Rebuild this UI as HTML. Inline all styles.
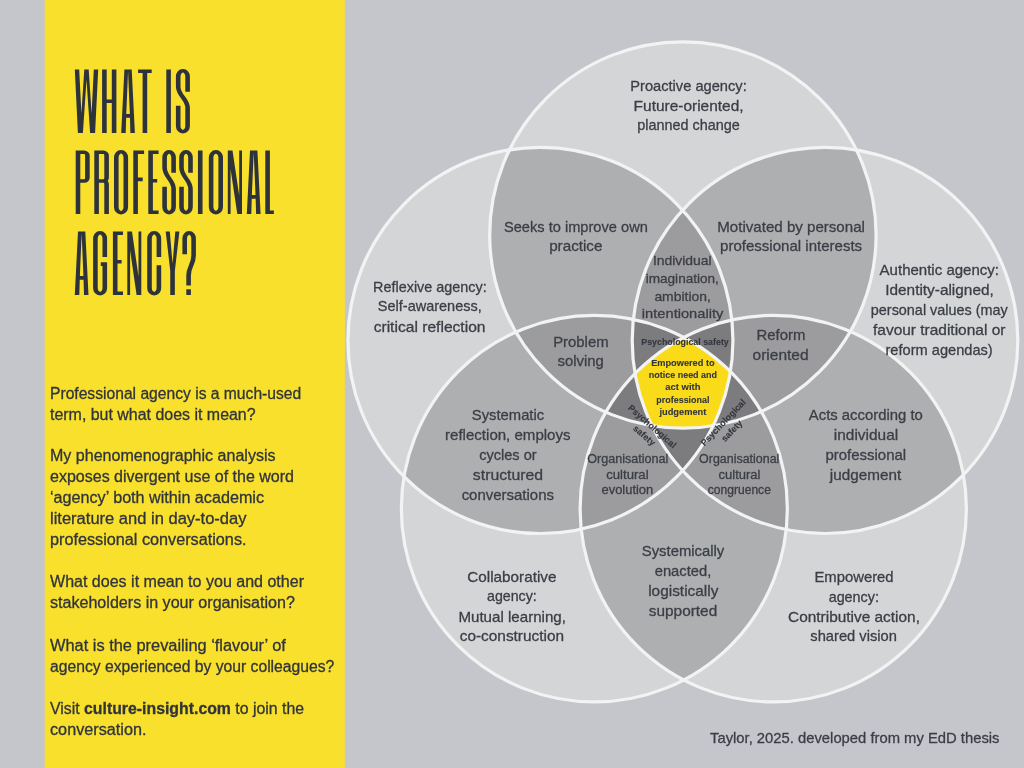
<!DOCTYPE html>
<html><head><meta charset="utf-8"><style>
html,body{margin:0;padding:0;background:#c5c6cb;}
body{width:1024px;height:768px;overflow:hidden;font-family:"Liberation Sans",sans-serif;}
svg{display:block;will-change:transform;}
</style></head><body>
<svg width="1024" height="768" viewBox="0 0 1024 768">
<defs><clipPath id="cT"><ellipse cx="682.9" cy="235.0" rx="193.2" ry="193.2"/></clipPath><clipPath id="cL"><ellipse cx="540.45" cy="340.4" rx="192.5" ry="193.1"/></clipPath><clipPath id="cR"><ellipse cx="825.0" cy="340.4" rx="192.8" ry="193.1"/></clipPath><clipPath id="cBL"><ellipse cx="594.35" cy="508.65" rx="193.0" ry="193.3"/></clipPath><clipPath id="cBR"><ellipse cx="773.25" cy="508.65" rx="193.15" ry="193.3"/></clipPath><clipPath id="tl0"><rect x="60" y="68.5" width="260" height="65.5"/></clipPath><clipPath id="tl1"><rect x="60" y="149.5" width="260" height="65.5"/></clipPath><clipPath id="tl2"><rect x="60" y="230.5" width="260" height="65.5"/></clipPath></defs>
<rect width="1024" height="768" fill="#c5c6cb"/>
<rect x="44.7" y="0" width="300.1" height="768" fill="#f9e02c"/>
<ellipse cx="682.9" cy="235.0" rx="193.2" ry="193.2" fill="#d4d5d7"/>
<ellipse cx="540.45" cy="340.4" rx="192.5" ry="193.1" fill="#d4d5d7"/>
<ellipse cx="825.0" cy="340.4" rx="192.8" ry="193.1" fill="#d4d5d7"/>
<ellipse cx="594.35" cy="508.65" rx="193.0" ry="193.3" fill="#d4d5d7"/>
<ellipse cx="773.25" cy="508.65" rx="193.15" ry="193.3" fill="#d4d5d7"/>
<g clip-path="url(#cT)"><ellipse cx="540.45" cy="340.4" rx="192.5" ry="193.1" fill="#aeafb1"/></g>
<g clip-path="url(#cT)"><ellipse cx="825.0" cy="340.4" rx="192.8" ry="193.1" fill="#aeafb1"/></g>
<g clip-path="url(#cT)"><ellipse cx="594.35" cy="508.65" rx="193.0" ry="193.3" fill="#aeafb1"/></g>
<g clip-path="url(#cT)"><ellipse cx="773.25" cy="508.65" rx="193.15" ry="193.3" fill="#aeafb1"/></g>
<g clip-path="url(#cL)"><ellipse cx="825.0" cy="340.4" rx="192.8" ry="193.1" fill="#aeafb1"/></g>
<g clip-path="url(#cL)"><ellipse cx="594.35" cy="508.65" rx="193.0" ry="193.3" fill="#aeafb1"/></g>
<g clip-path="url(#cL)"><ellipse cx="773.25" cy="508.65" rx="193.15" ry="193.3" fill="#aeafb1"/></g>
<g clip-path="url(#cR)"><ellipse cx="594.35" cy="508.65" rx="193.0" ry="193.3" fill="#aeafb1"/></g>
<g clip-path="url(#cR)"><ellipse cx="773.25" cy="508.65" rx="193.15" ry="193.3" fill="#aeafb1"/></g>
<g clip-path="url(#cBL)"><ellipse cx="773.25" cy="508.65" rx="193.15" ry="193.3" fill="#aeafb1"/></g>
<g clip-path="url(#cT)"><g clip-path="url(#cL)"><ellipse cx="825.0" cy="340.4" rx="192.8" ry="193.1" fill="#9c9c9e"/></g></g>
<g clip-path="url(#cT)"><g clip-path="url(#cL)"><ellipse cx="594.35" cy="508.65" rx="193.0" ry="193.3" fill="#9c9c9e"/></g></g>
<g clip-path="url(#cT)"><g clip-path="url(#cL)"><ellipse cx="773.25" cy="508.65" rx="193.15" ry="193.3" fill="#9c9c9e"/></g></g>
<g clip-path="url(#cT)"><g clip-path="url(#cR)"><ellipse cx="594.35" cy="508.65" rx="193.0" ry="193.3" fill="#9c9c9e"/></g></g>
<g clip-path="url(#cT)"><g clip-path="url(#cR)"><ellipse cx="773.25" cy="508.65" rx="193.15" ry="193.3" fill="#9c9c9e"/></g></g>
<g clip-path="url(#cT)"><g clip-path="url(#cBL)"><ellipse cx="773.25" cy="508.65" rx="193.15" ry="193.3" fill="#9c9c9e"/></g></g>
<g clip-path="url(#cL)"><g clip-path="url(#cR)"><ellipse cx="594.35" cy="508.65" rx="193.0" ry="193.3" fill="#9c9c9e"/></g></g>
<g clip-path="url(#cL)"><g clip-path="url(#cR)"><ellipse cx="773.25" cy="508.65" rx="193.15" ry="193.3" fill="#9c9c9e"/></g></g>
<g clip-path="url(#cL)"><g clip-path="url(#cBL)"><ellipse cx="773.25" cy="508.65" rx="193.15" ry="193.3" fill="#9c9c9e"/></g></g>
<g clip-path="url(#cR)"><g clip-path="url(#cBL)"><ellipse cx="773.25" cy="508.65" rx="193.15" ry="193.3" fill="#9c9c9e"/></g></g>
<g clip-path="url(#cT)"><g clip-path="url(#cL)"><g clip-path="url(#cR)"><ellipse cx="594.35" cy="508.65" rx="193.0" ry="193.3" fill="#7c7c7e"/></g></g></g>
<g clip-path="url(#cT)"><g clip-path="url(#cL)"><g clip-path="url(#cR)"><ellipse cx="773.25" cy="508.65" rx="193.15" ry="193.3" fill="#7c7c7e"/></g></g></g>
<g clip-path="url(#cT)"><g clip-path="url(#cL)"><g clip-path="url(#cBL)"><ellipse cx="773.25" cy="508.65" rx="193.15" ry="193.3" fill="#7c7c7e"/></g></g></g>
<g clip-path="url(#cT)"><g clip-path="url(#cR)"><g clip-path="url(#cBL)"><ellipse cx="773.25" cy="508.65" rx="193.15" ry="193.3" fill="#7c7c7e"/></g></g></g>
<g clip-path="url(#cL)"><g clip-path="url(#cR)"><g clip-path="url(#cBL)"><ellipse cx="773.25" cy="508.65" rx="193.15" ry="193.3" fill="#7c7c7e"/></g></g></g>
<g clip-path="url(#cT)"><g clip-path="url(#cL)"><g clip-path="url(#cR)"><g clip-path="url(#cBL)"><ellipse cx="773.25" cy="508.65" rx="193.15" ry="193.3" fill="#fadb1a"/></g></g></g></g>
<ellipse cx="682.9" cy="235.0" rx="193.2" ry="193.2" fill="none" stroke="#f2f3f3" stroke-width="3.2"/>
<ellipse cx="540.45" cy="340.4" rx="192.5" ry="193.1" fill="none" stroke="#f2f3f3" stroke-width="3.2"/>
<ellipse cx="825.0" cy="340.4" rx="192.8" ry="193.1" fill="none" stroke="#f2f3f3" stroke-width="3.2"/>
<ellipse cx="594.35" cy="508.65" rx="193.0" ry="193.3" fill="none" stroke="#f2f3f3" stroke-width="3.2"/>
<ellipse cx="773.25" cy="508.65" rx="193.15" ry="193.3" fill="none" stroke="#f2f3f3" stroke-width="3.2"/>
<g clip-path="url(#tl0)"><path transform="translate(102.1,69.5) scale(1.2778,1)" d="M1.8,0V63.5M9.391,0V63.5M1.8,31.7H9.391" fill="none" stroke="#2d323b" stroke-width="3.6"/><path transform="translate(138.1,69.5) scale(1.2778,1)" d="M0,1.8H10.643M5.322,1.8V63.5" fill="none" stroke="#2d323b" stroke-width="3.6"/><path transform="translate(166.3,69.5) scale(1.2778,1)" d="M1.8,0V63.5" fill="none" stroke="#2d323b" stroke-width="3.6"/><path transform="translate(175.9,69.5) scale(1.2778,1)" d="M9.157,22.2V6.9A3.678,5.6 0 0 0 1.8,6.9V17.3C1.8,26.3 9.157,29.3 9.157,38.3V56.6A3.678,5.6 0 0 1 1.8,56.6V36.2" fill="none" stroke="#2d323b" stroke-width="3.6"/><path d="M74.80,69.50 L79.20,69.50 L81.40,113.40 L84.30,69.50 L88.70,69.50 L91.60,113.40 L93.80,69.50 L98.20,69.50 L95.10,133.00 L90.10,133.00 L86.50,79.70 L82.90,133.00 L77.90,133.00Z" fill="#2d323b"/><path d="M121.20,133.00 L124.40,69.50 L131.70,69.50 L134.90,133.00 L130.40,133.00 L129.95,117.80 L126.15,117.80 L125.70,133.00ZM128.05,71.50 L129.83,114.10 L126.27,114.10Z" fill="#2d323b" fill-rule="evenodd"/></g>
<g clip-path="url(#tl1)"><path transform="translate(75.7,150.5) scale(1.2778,1)" d="M1.8,63.5V1.8H6.652A2.504,3.2 0 0 1 9.157,5V27.3A2.504,3.2 0 0 1 6.652,30.5H1.8" fill="none" stroke="#2d323b" stroke-width="3.6"/><path transform="translate(94.3,150.5) scale(1.2778,1)" d="M1.8,63.5V1.8H7.122A2.504,3.2 0 0 1 9.626,5V27.3A2.504,3.2 0 0 1 7.122,30.5H1.8M7.122,30.5A2.504,3.2 0 0 1 9.626,33.7V63.5" fill="none" stroke="#2d323b" stroke-width="3.6"/><path transform="translate(114,150.5) scale(1.2778,1)" d="M1.8,6.9A3.717,5.6 0 0 1 9.235,6.9V56.6A3.717,5.6 0 0 1 1.8,56.6Z" fill="none" stroke="#2d323b" stroke-width="3.6"/><path transform="translate(133.3,150.5) scale(1.2778,1)" d="M8.452,1.8H1.8V63.5M1.8,28.9H7.357" fill="none" stroke="#2d323b" stroke-width="3.6"/><path transform="translate(148.3,150.5) scale(1.2778,1)" d="M8.061,1.8H1.8V61.7H8.061M1.8,30.2H6.965" fill="none" stroke="#2d323b" stroke-width="3.6"/><path transform="translate(162.3,150.5) scale(1.2778,1)" d="M8.843,22.2V6.9A3.522,5.6 0 0 0 1.8,6.9V17.3C1.8,26.3 8.843,29.3 8.843,38.3V56.6A3.522,5.6 0 0 1 1.8,56.6V36.2" fill="none" stroke="#2d323b" stroke-width="3.6"/><path transform="translate(179.2,150.5) scale(1.2778,1)" d="M8.843,22.2V6.9A3.522,5.6 0 0 0 1.8,6.9V17.3C1.8,26.3 8.843,29.3 8.843,38.3V56.6A3.522,5.6 0 0 1 1.8,56.6V36.2" fill="none" stroke="#2d323b" stroke-width="3.6"/><path transform="translate(197.9,150.5) scale(1.2778,1)" d="M1.839,0V63.5" fill="none" stroke="#2d323b" stroke-width="3.6"/><path transform="translate(208.8,150.5) scale(1.2778,1)" d="M1.8,6.9A3.757,5.6 0 0 1 9.313,6.9V56.6A3.757,5.6 0 0 1 1.8,56.6Z" fill="none" stroke="#2d323b" stroke-width="3.6"/><path transform="translate(265.3,150.5) scale(1.2778,1)" d="M1.8,0V61.7H6.73" fill="none" stroke="#2d323b" stroke-width="3.6"/><path d="M227.80,150.50 L232.50,150.50 L239.20,195.40 L239.20,150.50 L242.00,150.50 L242.00,214.00 L237.30,214.00 L230.60,169.20 L230.60,214.00 L227.80,214.00Z" fill="#2d323b"/><path d="M246.80,214.00 L250.00,150.50 L257.40,150.50 L260.60,214.00 L256.10,214.00 L255.65,198.80 L251.75,198.80 L251.30,214.00ZM253.70,152.50 L255.53,195.10 L251.87,195.10Z" fill="#2d323b" fill-rule="evenodd"/></g>
<g clip-path="url(#tl2)"><path transform="translate(93.1,231.5) scale(1.2778,1)" d="M9.157,25.5V6.9A3.678,5.6 0 0 0 1.8,6.9V56.6A3.678,5.6 0 0 0 9.157,56.6V32.6H6.026" fill="none" stroke="#2d323b" stroke-width="3.6"/><path transform="translate(112.9,231.5) scale(1.2778,1)" d="M7.904,1.8H1.8V61.7H7.904M1.8,30.2H6.809" fill="none" stroke="#2d323b" stroke-width="3.6"/><path transform="translate(147.2,231.5) scale(1.2778,1)" d="M9.157,25.5V6.9A3.678,5.6 0 0 0 1.8,6.9V56.6A3.678,5.6 0 0 0 9.157,56.6V33.7" fill="none" stroke="#2d323b" stroke-width="3.6"/><path transform="translate(182.4,231.5) scale(1.2778,1)" d="M1.8,22.7V6.9A3.483,5.6 0 0 1 8.765,6.9V24C8.765,33 4.852,35 4.852,44V54" fill="none" stroke="#2d323b" stroke-width="3.6"/><rect x="186.3" y="289.3" width="4.6" height="5.700000000000003" fill="#2d323b"/><path d="M74.80,295.00 L78.00,231.50 L85.30,231.50 L88.50,295.00 L84.00,295.00 L83.55,279.80 L79.75,279.80 L79.30,295.00ZM81.65,233.50 L83.43,276.10 L79.87,276.10Z" fill="#2d323b" fill-rule="evenodd"/><path d="M127.30,231.50 L132.00,231.50 L138.50,276.40 L138.50,231.50 L141.30,231.50 L141.30,295.00 L136.60,295.00 L130.10,250.20 L130.10,295.00 L127.30,295.00Z" fill="#2d323b"/><path d="M165.70,231.50 L169.80,231.50 L172.55,263.60 L175.30,231.50 L179.40,231.50 L174.85,270.90 L174.85,295.00 L170.25,295.00 L170.25,270.90Z" fill="#2d323b"/></g>
<g font-family="Liberation Sans, sans-serif" stroke-width="0.3" stroke-linejoin="round">
<text x="688.5" y="90.8" font-size="15" text-anchor="middle" textLength="116.4" lengthAdjust="spacingAndGlyphs" fill="#3b3e45" stroke="#3b3e45">Proactive agency:</text>
<text x="688.6" y="110.9" font-size="15" text-anchor="middle" textLength="110" lengthAdjust="spacingAndGlyphs" fill="#3b3e45" stroke="#3b3e45">Future-oriented,</text>
<text x="688.5" y="130.1" font-size="15" text-anchor="middle" textLength="102.6" lengthAdjust="spacingAndGlyphs" fill="#3b3e45" stroke="#3b3e45">planned change</text>
<text x="575.9" y="231.6" font-size="15" text-anchor="middle" textLength="143.9" lengthAdjust="spacingAndGlyphs" fill="#3b3e45" stroke="#3b3e45">Seeks to improve own</text>
<text x="575.8" y="251.4" font-size="15" text-anchor="middle" textLength="53.3" lengthAdjust="spacingAndGlyphs" fill="#3b3e45" stroke="#3b3e45">practice</text>
<text x="791.1" y="231.6" font-size="15" text-anchor="middle" textLength="147.6" lengthAdjust="spacingAndGlyphs" fill="#3b3e45" stroke="#3b3e45">Motivated by personal</text>
<text x="791.1" y="251.4" font-size="15" text-anchor="middle" textLength="142" lengthAdjust="spacingAndGlyphs" fill="#3b3e45" stroke="#3b3e45">professional interests</text>
<text x="429.9" y="291.6" font-size="15" text-anchor="middle" textLength="113.6" lengthAdjust="spacingAndGlyphs" fill="#3b3e45" stroke="#3b3e45">Reflexive agency:</text>
<text x="429.8" y="311.3" font-size="15" text-anchor="middle" textLength="103.9" lengthAdjust="spacingAndGlyphs" fill="#3b3e45" stroke="#3b3e45">Self-awareness,</text>
<text x="429.6" y="331.6" font-size="15" text-anchor="middle" textLength="111.9" lengthAdjust="spacingAndGlyphs" fill="#3b3e45" stroke="#3b3e45">critical reflection</text>
<text x="939.3" y="274.5" font-size="15" text-anchor="middle" textLength="119.4" lengthAdjust="spacingAndGlyphs" fill="#3b3e45" stroke="#3b3e45">Authentic agency:</text>
<text x="939.5" y="294.5" font-size="15" text-anchor="middle" textLength="108.5" lengthAdjust="spacingAndGlyphs" fill="#3b3e45" stroke="#3b3e45">Identity-aligned,</text>
<text x="939.3" y="314.8" font-size="15" text-anchor="middle" textLength="137" lengthAdjust="spacingAndGlyphs" fill="#3b3e45" stroke="#3b3e45">personal values (may</text>
<text x="939.2" y="334.8" font-size="15" text-anchor="middle" textLength="132.4" lengthAdjust="spacingAndGlyphs" fill="#3b3e45" stroke="#3b3e45">favour traditional or</text>
<text x="939.1" y="354.6" font-size="15" text-anchor="middle" textLength="107.2" lengthAdjust="spacingAndGlyphs" fill="#3b3e45" stroke="#3b3e45">reform agendas)</text>
<text x="580.9" y="346.8" font-size="15" text-anchor="middle" textLength="55.5" lengthAdjust="spacingAndGlyphs" fill="#3b3e45" stroke="#3b3e45">Problem</text>
<text x="580.7" y="366.3" font-size="15" text-anchor="middle" textLength="46.3" lengthAdjust="spacingAndGlyphs" fill="#3b3e45" stroke="#3b3e45">solving</text>
<text x="781" y="339.8" font-size="15" text-anchor="middle" textLength="48.9" lengthAdjust="spacingAndGlyphs" fill="#3b3e45" stroke="#3b3e45">Reform</text>
<text x="780.6" y="359.5" font-size="15" text-anchor="middle" textLength="56.1" lengthAdjust="spacingAndGlyphs" fill="#3b3e45" stroke="#3b3e45">oriented</text>
<text x="508" y="419.5" font-size="15" text-anchor="middle" textLength="72.3" lengthAdjust="spacingAndGlyphs" fill="#3b3e45" stroke="#3b3e45">Systematic</text>
<text x="507.8" y="439.5" font-size="15" text-anchor="middle" textLength="125.5" lengthAdjust="spacingAndGlyphs" fill="#3b3e45" stroke="#3b3e45">reflection, employs</text>
<text x="507.9" y="459.8" font-size="15" text-anchor="middle" textLength="57.4" lengthAdjust="spacingAndGlyphs" fill="#3b3e45" stroke="#3b3e45">cycles or</text>
<text x="508" y="479.8" font-size="15" text-anchor="middle" textLength="70.3" lengthAdjust="spacingAndGlyphs" fill="#3b3e45" stroke="#3b3e45">structured</text>
<text x="507.8" y="499.6" font-size="15" text-anchor="middle" textLength="92.3" lengthAdjust="spacingAndGlyphs" fill="#3b3e45" stroke="#3b3e45">conversations</text>
<text x="865.8" y="419.5" font-size="15" text-anchor="middle" textLength="114" lengthAdjust="spacingAndGlyphs" fill="#3b3e45" stroke="#3b3e45">Acts according to</text>
<text x="866" y="439.5" font-size="15" text-anchor="middle" textLength="64.3" lengthAdjust="spacingAndGlyphs" fill="#3b3e45" stroke="#3b3e45">individual</text>
<text x="865.8" y="459.8" font-size="15" text-anchor="middle" textLength="80.8" lengthAdjust="spacingAndGlyphs" fill="#3b3e45" stroke="#3b3e45">professional</text>
<text x="865.5" y="479.8" font-size="15" text-anchor="middle" textLength="71.3" lengthAdjust="spacingAndGlyphs" fill="#3b3e45" stroke="#3b3e45">judgement</text>
<text x="683" y="555.9" font-size="15" text-anchor="middle" textLength="82.4" lengthAdjust="spacingAndGlyphs" fill="#3b3e45" stroke="#3b3e45">Systemically</text>
<text x="683" y="575.8" font-size="15" text-anchor="middle" textLength="56.6" lengthAdjust="spacingAndGlyphs" fill="#3b3e45" stroke="#3b3e45">enacted,</text>
<text x="683.3" y="595.7" font-size="15" text-anchor="middle" textLength="70.2" lengthAdjust="spacingAndGlyphs" fill="#3b3e45" stroke="#3b3e45">logistically</text>
<text x="683" y="615.6" font-size="15" text-anchor="middle" textLength="68.4" lengthAdjust="spacingAndGlyphs" fill="#3b3e45" stroke="#3b3e45">supported</text>
<text x="511.9" y="581.6" font-size="15" text-anchor="middle" textLength="89.2" lengthAdjust="spacingAndGlyphs" fill="#3b3e45" stroke="#3b3e45">Collaborative</text>
<text x="511.9" y="601.3" font-size="15" text-anchor="middle" textLength="49.8" lengthAdjust="spacingAndGlyphs" fill="#3b3e45" stroke="#3b3e45">agency:</text>
<text x="512.2" y="621.6" font-size="15" text-anchor="middle" textLength="107.6" lengthAdjust="spacingAndGlyphs" fill="#3b3e45" stroke="#3b3e45">Mutual learning,</text>
<text x="511.9" y="641.2" font-size="15" text-anchor="middle" textLength="104.4" lengthAdjust="spacingAndGlyphs" fill="#3b3e45" stroke="#3b3e45">co-construction</text>
<text x="854" y="582" font-size="15" text-anchor="middle" textLength="79.2" lengthAdjust="spacingAndGlyphs" fill="#3b3e45" stroke="#3b3e45">Empowered</text>
<text x="853.8" y="601.7" font-size="15" text-anchor="middle" textLength="50.3" lengthAdjust="spacingAndGlyphs" fill="#3b3e45" stroke="#3b3e45">agency:</text>
<text x="854" y="621.5" font-size="15" text-anchor="middle" textLength="131.9" lengthAdjust="spacingAndGlyphs" fill="#3b3e45" stroke="#3b3e45">Contributive action,</text>
<text x="853.6" y="641.3" font-size="15" text-anchor="middle" textLength="86.6" lengthAdjust="spacingAndGlyphs" fill="#3b3e45" stroke="#3b3e45">shared vision</text>
<text x="682.3" y="264.7" font-size="13.5" text-anchor="middle" textLength="58.8" lengthAdjust="spacingAndGlyphs" fill="#3b3e45" stroke="#3b3e45">Individual</text>
<text x="682.3" y="282.6" font-size="13.5" text-anchor="middle" textLength="73.2" lengthAdjust="spacingAndGlyphs" fill="#3b3e45" stroke="#3b3e45">imagination,</text>
<text x="682.6" y="300.5" font-size="13.5" text-anchor="middle" textLength="56.4" lengthAdjust="spacingAndGlyphs" fill="#3b3e45" stroke="#3b3e45">ambition,</text>
<text x="682.6" y="318.3" font-size="13.5" text-anchor="middle" textLength="81.5" lengthAdjust="spacingAndGlyphs" fill="#3b3e45" stroke="#3b3e45">intentionality</text>
<text x="627.8" y="462.6" font-size="12.5" text-anchor="middle" textLength="81" lengthAdjust="spacingAndGlyphs" fill="#3b3e45" stroke="#3b3e45">Organisational</text>
<text x="627.4" y="478.6" font-size="12.5" text-anchor="middle" textLength="42.4" lengthAdjust="spacingAndGlyphs" fill="#3b3e45" stroke="#3b3e45">cultural</text>
<text x="627.4" y="494.3" font-size="12.5" text-anchor="middle" textLength="51.7" lengthAdjust="spacingAndGlyphs" fill="#3b3e45" stroke="#3b3e45">evolution</text>
<text x="739.2" y="462.6" font-size="12.5" text-anchor="middle" textLength="80.3" lengthAdjust="spacingAndGlyphs" fill="#3b3e45" stroke="#3b3e45">Organisational</text>
<text x="739.5" y="478.6" font-size="12.5" text-anchor="middle" textLength="42" lengthAdjust="spacingAndGlyphs" fill="#3b3e45" stroke="#3b3e45">cultural</text>
<text x="739.3" y="494.3" font-size="12.5" text-anchor="middle" textLength="63.1" lengthAdjust="spacingAndGlyphs" fill="#3b3e45" stroke="#3b3e45">congruence</text>
<text x="685" y="344.5" font-size="9" text-anchor="middle" font-weight="bold" stroke-width="0.1" textLength="87.5" lengthAdjust="spacingAndGlyphs" fill="#33363d" stroke="#33363d">Psychological safety</text>
<text x="682.9" y="365.6" font-size="9" text-anchor="middle" font-weight="bold" stroke-width="0.1" textLength="63.5" lengthAdjust="spacingAndGlyphs" fill="#33363d" stroke="#33363d">Empowered to</text>
<text x="682.9" y="377.95000000000005" font-size="9" text-anchor="middle" font-weight="bold" stroke-width="0.1" textLength="68.4" lengthAdjust="spacingAndGlyphs" fill="#33363d" stroke="#33363d">notice need and</text>
<text x="682.9" y="390.3" font-size="9" text-anchor="middle" font-weight="bold" stroke-width="0.1" textLength="35.2" lengthAdjust="spacingAndGlyphs" fill="#33363d" stroke="#33363d">act with</text>
<text x="682.9" y="402.65000000000003" font-size="9" text-anchor="middle" font-weight="bold" stroke-width="0.1" textLength="53.2" lengthAdjust="spacingAndGlyphs" fill="#33363d" stroke="#33363d">professional</text>
<text x="682.9" y="415.0" font-size="9" text-anchor="middle" font-weight="bold" stroke-width="0.1" textLength="46.9" lengthAdjust="spacingAndGlyphs" fill="#33363d" stroke="#33363d">judgement</text>
<g transform="translate(651.9,426.8) rotate(41.2)"><text x="0" y="2.5" font-size="9" text-anchor="middle" font-weight="bold" stroke-width="0.1" fill="#33363d" stroke="#33363d">Psychological</text><text x="0" y="14.5" font-size="9" text-anchor="middle" font-weight="bold" stroke-width="0.1" fill="#33363d" stroke="#33363d">safety</text></g>
<g transform="translate(723.6,422.9) rotate(-46.3)"><text x="0" y="2.5" font-size="9" text-anchor="middle" font-weight="bold" stroke-width="0.1" fill="#33363d" stroke="#33363d">Psychological</text><text x="0" y="14.5" font-size="9" text-anchor="middle" font-weight="bold" stroke-width="0.1" fill="#33363d" stroke="#33363d">safety</text></g>
<text x="999.5" y="742.6" font-size="15" text-anchor="end" textLength="289.5" lengthAdjust="spacingAndGlyphs" fill="#3b3e45" stroke="#3b3e45">Taylor, 2025. developed from my EdD thesis</text>
<text x="50.0" y="398.8" font-size="16" textLength="251.2" lengthAdjust="spacingAndGlyphs" fill="#30343b" stroke="#30343b">Professional agency is a much-used</text>
<text x="50.0" y="419.8" font-size="16" textLength="205.6" lengthAdjust="spacingAndGlyphs" fill="#30343b" stroke="#30343b">term, but what does it mean?</text>
<text x="50.0" y="461.4" font-size="16" textLength="225.5" lengthAdjust="spacingAndGlyphs" fill="#30343b" stroke="#30343b">My phenomenographic analysis</text>
<text x="50.0" y="482.2" font-size="16" textLength="244.0" lengthAdjust="spacingAndGlyphs" fill="#30343b" stroke="#30343b">exposes divergent use of the word</text>
<text x="50.0" y="503" font-size="16" textLength="214.0" lengthAdjust="spacingAndGlyphs" fill="#30343b" stroke="#30343b">‘agency’ both within academic</text>
<text x="50.0" y="523.8" font-size="16" textLength="196.5" lengthAdjust="spacingAndGlyphs" fill="#30343b" stroke="#30343b">literature and in day-to-day</text>
<text x="50.0" y="544.6" font-size="16" textLength="196.5" lengthAdjust="spacingAndGlyphs" fill="#30343b" stroke="#30343b">professional conversations.</text>
<text x="50.0" y="587.2" font-size="16" textLength="254.0" lengthAdjust="spacingAndGlyphs" fill="#30343b" stroke="#30343b">What does it mean to you and other</text>
<text x="50.0" y="608.4" font-size="16" textLength="244.9" lengthAdjust="spacingAndGlyphs" fill="#30343b" stroke="#30343b">stakeholders in your organisation?</text>
<text x="50.0" y="650.8" font-size="16" textLength="235.8" lengthAdjust="spacingAndGlyphs" fill="#30343b" stroke="#30343b">What is the prevailing ‘flavour’ of</text>
<text x="50.0" y="672" font-size="16" textLength="284.3" lengthAdjust="spacingAndGlyphs" fill="#30343b" stroke="#30343b">agency experienced by your colleagues?</text>
<text x="50.0" y="713.8" font-size="16" textLength="254.0" lengthAdjust="spacingAndGlyphs" fill="#30343b" stroke="#30343b">Visit <tspan font-weight="bold">culture-insight.com</tspan> to join the</text>
<text x="50.0" y="735" font-size="16" textLength="96.5" lengthAdjust="spacingAndGlyphs" fill="#30343b" stroke="#30343b">conversation.</text>
</g>
</svg>
</body></html>
